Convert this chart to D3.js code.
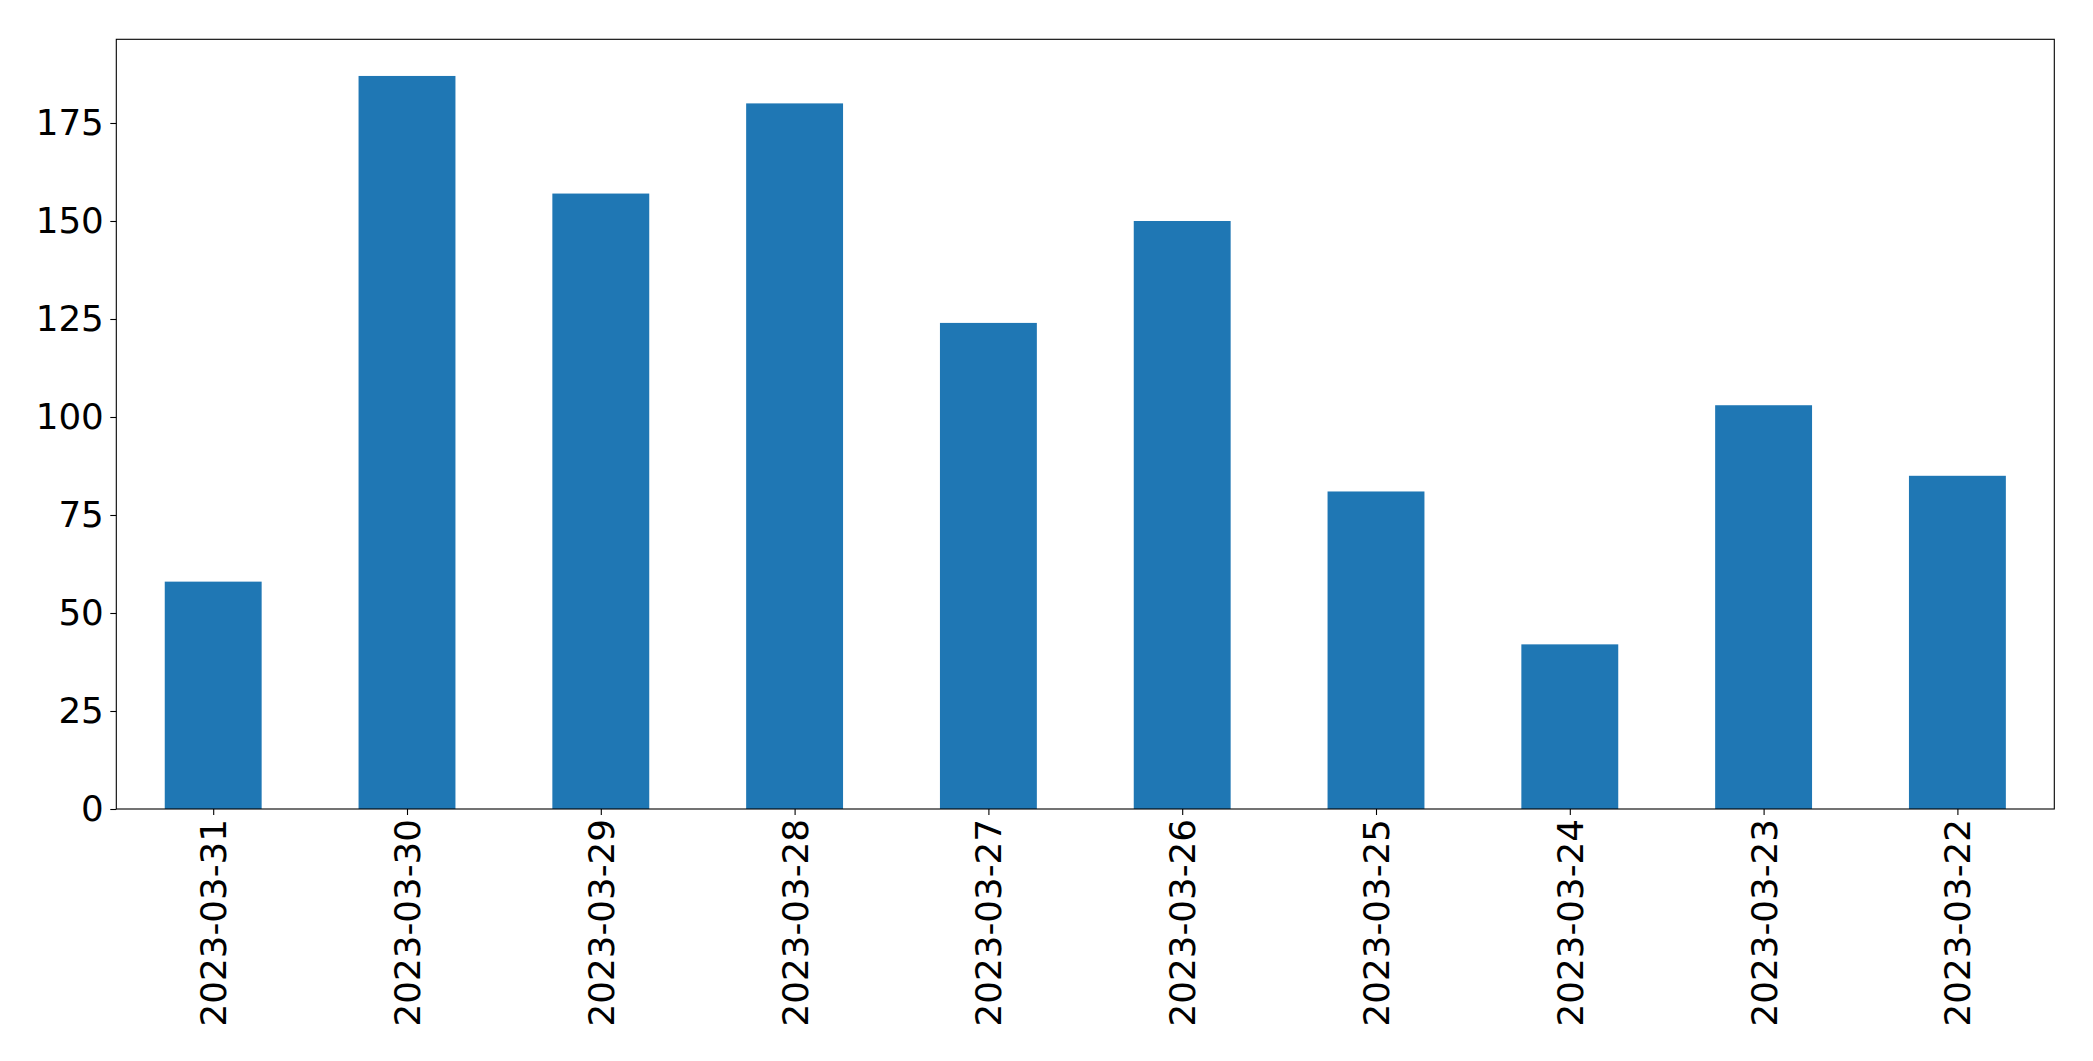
<!DOCTYPE html>
<html>
<head>
<meta charset="utf-8">
<script src="https://cdn.jsdelivr.net/npm/d3@7"></script>
<style>
  body { margin: 0; background: #fff; }
  svg text { font-family: "DejaVu Sans", sans-serif; }
</style>
</head>
<body>
<div id="chart"></div>
<script>
const dates = ["2023-03-31", "2023-03-30", "2023-03-29", "2023-03-28", "2023-03-27",
               "2023-03-26", "2023-03-25", "2023-03-24", "2023-03-23", "2023-03-22"];
const counts = [58, 187, 157, 180, 124, 150, 81, 42, 103, 85];
const yTicks = [0, 25, 50, 75, 100, 125, 150, 175];

const W = 2093, H = 1061;
const plotLeft = 116.3, plotRight = 2054.3, plotTop = 39.3, plotBottom = 809;

const svg = d3.select("#chart").append("svg")
    .attr("width", W).attr("height", H);

// pandas style: categories at 0..n-1, limits -0.5..n-0.5, bar width 0.5
const x = d3.scaleLinear().domain([-0.5, dates.length - 0.5]).range([plotLeft, plotRight]);
const y = d3.scaleLinear().domain([0, d3.max(counts) * 1.05]).range([plotBottom, plotTop]);

svg.selectAll(".bar")
    .data(counts)
    .join("rect")
    .attr("class", "bar")
    .attr("x", (_, i) => x(i - 0.25))
    .attr("width", (_, i) => x(i + 0.25) - x(i - 0.25))
    .attr("y", d => y(d))
    .attr("height", d => y(0) - y(d))
    .attr("fill", "#1f77b4");

const tickLen = 6, fs = 35.7;

const yAxis = d3.axisLeft(y).tickValues(yTicks).tickSize(tickLen).tickPadding(6.5);
svg.append("g")
    .attr("transform", `translate(${plotLeft},0)`)
    .call(yAxis)
    .call(g => g.select(".domain").remove())
    .call(g => g.selectAll("line").attr("stroke", "#000").attr("stroke-width", 1.1))
    .call(g => g.selectAll("text").style("font-size", fs + "px").attr("fill", "#000")
        .attr("font-family", "DejaVu Sans"));

const xAxis = d3.axisBottom(x).tickValues(d3.range(dates.length))
    .tickFormat(i => dates[i]).tickSize(tickLen);
svg.append("g")
    .attr("transform", `translate(0,${plotBottom})`)
    .call(xAxis)
    .call(g => g.select(".domain").remove())
    .call(g => g.selectAll("line").attr("stroke", "#000").attr("stroke-width", 1.1))
    .call(g => g.selectAll("text")
        .style("font-size", fs + "px").attr("fill", "#000")
        .attr("font-family", "DejaVu Sans")
        .attr("transform", "rotate(-90)")
        .attr("x", -(tickLen + 4))
        .attr("y", 0)
        .attr("dy", "0.35em")
        .attr("text-anchor", "end"));

// frame
svg.append("rect")
    .attr("x", plotLeft).attr("y", plotTop)
    .attr("width", plotRight - plotLeft).attr("height", plotBottom - plotTop)
    .attr("fill", "none").attr("stroke", "#000").attr("stroke-width", 1.1);
</script>
</body>
</html>
